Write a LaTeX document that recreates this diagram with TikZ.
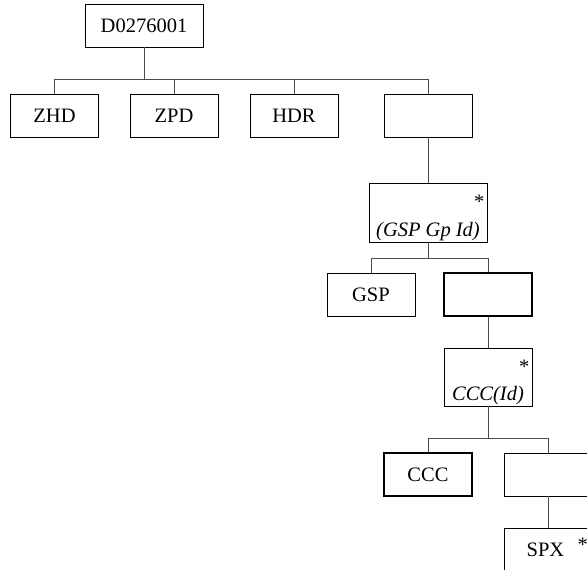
\documentclass[tikz,border=0pt]{standalone}
\usepackage{fontspec}
\setmainfont{Liberation Serif}
\begin{document}
\begin{tikzpicture}[x=1pt,y=-1pt,
  box/.style={draw, line width=0.9pt, minimum width=88pt, minimum height=43pt, inner sep=0pt, font=\fontsize{20.5}{24}\selectfont},
  heavy/.style={line width=1.2pt},
  star/.style={label={[anchor=north east, inner sep=0pt, xshift=-3pt, yshift=-12pt, font=\fontsize{20.5}{24}\selectfont]north east:*}},
  itl/.style={label={[anchor=base, inner sep=0pt, yshift=-19pt, font=\fontsize{20.5}{24}\selectfont\itshape]center:#1}},
  conn/.style={line width=0.8pt, draw=black!70}]
\useasboundingbox (0,0) rectangle (587,570);
\clip (0,0) rectangle (587,570);
% level 0
\node[box, minimum width=118pt] (root) at (144,25.5) {D0276001};
% level 1
\node[box] (zhd) at (54.5,115.5) {ZHD};
\node[box] (zpd) at (174,115.5) {ZPD};
\node[box] (hdr) at (294,115.5) {HDR};
\node[box] (e1) at (428,115.5) {};
% level 2
\node[box, minimum width=118pt, minimum height=59pt, star, itl={(GSP Gp Id)}] (gspg) at (428,212.5) {};
\node[box] (gsp) at (371,294.5) {GSP};
\node[box, heavy] (e2) at (488,294.5) {};
% level 3
\node[box, minimum height=58pt, star, itl={CCC(Id)}] (cccid) at (488,377) {};
\node[box, heavy] (ccc) at (428,474.5) {CCC};
\node[box] (e3) at (548.5,474.5) {};
\node[box, label={[anchor=north east, inner sep=0pt, xshift=-5pt, yshift=-10pt, font=\fontsize{20.5}{24}\selectfont]north east:*}] (spx) at (548.5,549.5) {\hspace*{-6pt}SPX};
% bus coordinates
\coordinate (b1) at (144,79);
\coordinate (b2) at (428,258);
\coordinate (b3) at (488,438);
% connectors
\draw[conn] (root.south) -- (b1);
\draw[conn] (zhd.north) |- (b1);
\draw[conn] (zpd.north) |- (b1);
\draw[conn] (hdr.north) |- (b1);
\draw[conn] (e1.north) |- (b1);
\draw[conn] (e1.south) -- (gspg.north);
\draw[conn] (gspg.south) -- (b2);
\draw[conn] (gsp.north) |- (b2);
\draw[conn] (e2.north) |- (b2);
\draw[conn] (e2.south) -- (cccid.north);
\draw[conn] (cccid.south) -- (b3);
\draw[conn] (ccc.north) |- (b3);
\draw[conn] (e3.north) |- (b3);
\draw[conn] (e3.south) -- (spx.north);
\end{tikzpicture}
\end{document}
